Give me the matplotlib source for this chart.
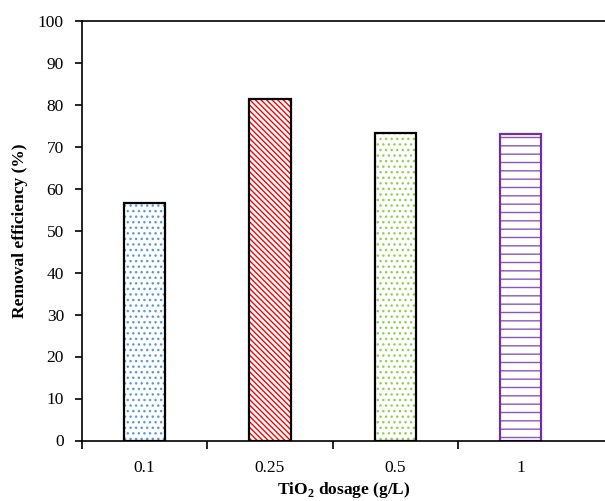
import matplotlib
matplotlib.use("Agg")
import matplotlib.pyplot as plt
import numpy as np

categories = ["0.1", "0.25", "0.5", "1"]
values = [56.5, 81.3, 73.2, 73.0]
hatch_colors = ["#5b9bd5", "#ff0000", "#92d050", "#8a55c0"]
edge_colors = ["black", "black", "black", "#7030a0"]
hatches = ["...", "\\\\\\\\\\\\", "...", "--"]

plt.rcParams['font.family'] = ['Liberation Serif', 'DejaVu Serif']
plt.rcParams['mathtext.fontset'] = 'custom'
plt.rcParams['mathtext.rm'] = 'Liberation Serif:bold'
plt.rcParams['mathtext.bf'] = 'Liberation Serif:bold'
plt.rcParams['hatch.linewidth'] = 1.0

fig = plt.figure(figsize=(6.05, 5.01), dpi=100)
W, H = 605, 501
ax = fig.add_axes([82 / W, 1 - 440.5 / H, (605 - 82) / W, (440.5 - 20.5) / H])

x = np.arange(len(categories))
width = 0.33
for xi, v, hc, ec, h in zip(x, values, hatch_colors, edge_colors, hatches):
    ax.bar(xi, v, width, color="white", edgecolor=hc, hatch=h, linewidth=0)
    ax.bar(xi, v, width, fill=False, edgecolor=ec, linewidth=1.6)

ax.set_xlim(-0.5, -0.5 + (605 - 82) / 125.3)
ax.set_ylim(0, 100)
ax.set_yticks(np.arange(0, 101, 10))
ax.set_xticks(x)
ax.set_xticklabels(categories)
ax.set_xticks([0.5 - 1 + i for i in range(4)], minor=True)
ax.tick_params(axis='x', which='major', length=0, pad=14, labelsize=12.5)
ax.tick_params(axis='x', which='minor', length=6, width=1.2, direction='out')
ax.tick_params(axis='y', length=5, width=1.2, direction='out', labelsize=12.5, pad=8)

for s in ['left', 'bottom', 'top']:
    ax.spines[s].set_linewidth(1.2)
ax.spines['right'].set_visible(False)

ax.set_ylabel("Removal efficiency (%)", fontsize=12.5, fontweight='bold', labelpad=7)
ax.set_xlabel("TiO$_\\mathrm{2}$ dosage (g/L)", fontsize=12.5, fontweight='bold', labelpad=3)

fig.savefig("out.png", dpi=100)
